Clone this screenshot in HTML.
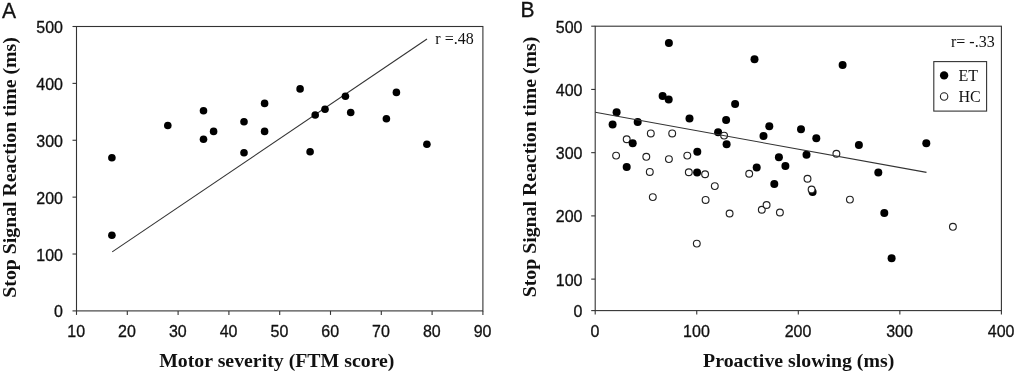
<!DOCTYPE html>
<html lang="en"><head><meta charset="utf-8"><title>Figure</title>
<style>html,body{margin:0;padding:0;background:#fff;}svg{display:block;filter:blur(0.45px);}.sans{font-family:"Liberation Sans",Arial,sans-serif;fill:#111;stroke:#111;stroke-width:0.3px;}.serif{font-family:"Liberation Serif","Times New Roman",serif;fill:#111;}.b{font-weight:bold;}</style></head><body>
<svg width="1017" height="374" viewBox="0 0 1017 374">
<rect width="1017" height="374" fill="#fff"/>
<rect x="76.5" y="26.5" width="406.40" height="284.40" fill="none" stroke="#333" stroke-width="1.1"/>
<line x1="72.5" y1="310.90" x2="76.5" y2="310.90" stroke="#333" stroke-width="1.1"/>
<text class="sans" transform="translate(63.00,317.40) scale(1,1.06)" font-size="16.0" text-anchor="end">0</text>
<line x1="72.5" y1="254.02" x2="76.5" y2="254.02" stroke="#333" stroke-width="1.1"/>
<text class="sans" transform="translate(63.00,260.52) scale(1,1.06)" font-size="16.0" text-anchor="end">100</text>
<line x1="72.5" y1="197.14" x2="76.5" y2="197.14" stroke="#333" stroke-width="1.1"/>
<text class="sans" transform="translate(63.00,203.64) scale(1,1.06)" font-size="16.0" text-anchor="end">200</text>
<line x1="72.5" y1="140.26" x2="76.5" y2="140.26" stroke="#333" stroke-width="1.1"/>
<text class="sans" transform="translate(63.00,146.76) scale(1,1.06)" font-size="16.0" text-anchor="end">300</text>
<line x1="72.5" y1="83.38" x2="76.5" y2="83.38" stroke="#333" stroke-width="1.1"/>
<text class="sans" transform="translate(63.00,89.88) scale(1,1.06)" font-size="16.0" text-anchor="end">400</text>
<line x1="72.5" y1="26.50" x2="76.5" y2="26.50" stroke="#333" stroke-width="1.1"/>
<text class="sans" transform="translate(63.00,33.00) scale(1,1.06)" font-size="16.0" text-anchor="end">500</text>
<line x1="76.50" y1="310.9" x2="76.50" y2="314.9" stroke="#333" stroke-width="1.1"/>
<text class="sans" transform="translate(76.20,336.60) scale(1,1.06)" font-size="16.0" text-anchor="middle">10</text>
<line x1="127.30" y1="310.9" x2="127.30" y2="314.9" stroke="#333" stroke-width="1.1"/>
<text class="sans" transform="translate(127.00,336.60) scale(1,1.06)" font-size="16.0" text-anchor="middle">20</text>
<line x1="178.10" y1="310.9" x2="178.10" y2="314.9" stroke="#333" stroke-width="1.1"/>
<text class="sans" transform="translate(177.80,336.60) scale(1,1.06)" font-size="16.0" text-anchor="middle">30</text>
<line x1="228.90" y1="310.9" x2="228.90" y2="314.9" stroke="#333" stroke-width="1.1"/>
<text class="sans" transform="translate(228.60,336.60) scale(1,1.06)" font-size="16.0" text-anchor="middle">40</text>
<line x1="279.70" y1="310.9" x2="279.70" y2="314.9" stroke="#333" stroke-width="1.1"/>
<text class="sans" transform="translate(279.40,336.60) scale(1,1.06)" font-size="16.0" text-anchor="middle">50</text>
<line x1="330.50" y1="310.9" x2="330.50" y2="314.9" stroke="#333" stroke-width="1.1"/>
<text class="sans" transform="translate(330.20,336.60) scale(1,1.06)" font-size="16.0" text-anchor="middle">60</text>
<line x1="381.30" y1="310.9" x2="381.30" y2="314.9" stroke="#333" stroke-width="1.1"/>
<text class="sans" transform="translate(381.00,336.60) scale(1,1.06)" font-size="16.0" text-anchor="middle">70</text>
<line x1="432.10" y1="310.9" x2="432.10" y2="314.9" stroke="#333" stroke-width="1.1"/>
<text class="sans" transform="translate(431.80,336.60) scale(1,1.06)" font-size="16.0" text-anchor="middle">80</text>
<line x1="482.90" y1="310.9" x2="482.90" y2="314.9" stroke="#333" stroke-width="1.1"/>
<text class="sans" transform="translate(482.60,336.60) scale(1,1.06)" font-size="16.0" text-anchor="middle">90</text>
<line x1="112.2" y1="251.9" x2="427" y2="39" stroke="#333" stroke-width="1.1"/>
<circle cx="111.9" cy="157.7" r="3.8" fill="#000"/>
<circle cx="167.8" cy="125.5" r="3.8" fill="#000"/>
<circle cx="203.5" cy="110.8" r="3.8" fill="#000"/>
<circle cx="203.5" cy="139.3" r="3.8" fill="#000"/>
<circle cx="213.6" cy="131.4" r="3.8" fill="#000"/>
<circle cx="244.0" cy="121.8" r="3.8" fill="#000"/>
<circle cx="244.0" cy="152.7" r="3.8" fill="#000"/>
<circle cx="264.6" cy="103.4" r="3.8" fill="#000"/>
<circle cx="264.6" cy="131.4" r="3.8" fill="#000"/>
<circle cx="300.1" cy="88.9" r="3.8" fill="#000"/>
<circle cx="310.1" cy="151.7" r="3.8" fill="#000"/>
<circle cx="315.2" cy="115.0" r="3.8" fill="#000"/>
<circle cx="325.0" cy="109.3" r="3.8" fill="#000"/>
<circle cx="345.4" cy="96.2" r="3.8" fill="#000"/>
<circle cx="350.7" cy="112.5" r="3.8" fill="#000"/>
<circle cx="386.4" cy="118.8" r="3.8" fill="#000"/>
<circle cx="396.4" cy="92.4" r="3.8" fill="#000"/>
<circle cx="426.9" cy="144.2" r="3.8" fill="#000"/>
<circle cx="111.9" cy="235.3" r="3.8" fill="#000"/>
<text class="sans" transform="translate(2.00,17.50) scale(0.95,1)" font-size="22.2" text-anchor="start">A</text>
<text class="serif" transform="translate(435.30,44.00)" font-size="16" text-anchor="start">r =.48</text>
<text class="serif b" transform="translate(276.80,366.70) scale(1.049,1)" font-size="18.9" text-anchor="middle">Motor severity (FTM score)</text>
<text class="serif b" transform="translate(16.10,167.40) rotate(-90) scale(1.048,1)" font-size="18.9" text-anchor="middle">Stop Signal Reaction time (ms)</text>
<rect x="595.2" y="26.2" width="406.20" height="284.40" fill="none" stroke="#333" stroke-width="1.1"/>
<line x1="591.2" y1="279.12" x2="595.2" y2="279.12" stroke="#333" stroke-width="1.1"/>
<text class="sans" transform="translate(582.50,285.62) scale(1,1.06)" font-size="16.0" text-anchor="end">100</text>
<line x1="591.2" y1="215.89" x2="595.2" y2="215.89" stroke="#333" stroke-width="1.1"/>
<text class="sans" transform="translate(582.50,222.39) scale(1,1.06)" font-size="16.0" text-anchor="end">200</text>
<line x1="591.2" y1="152.66" x2="595.2" y2="152.66" stroke="#333" stroke-width="1.1"/>
<text class="sans" transform="translate(582.50,159.16) scale(1,1.06)" font-size="16.0" text-anchor="end">300</text>
<line x1="591.2" y1="89.43" x2="595.2" y2="89.43" stroke="#333" stroke-width="1.1"/>
<text class="sans" transform="translate(582.50,95.93) scale(1,1.06)" font-size="16.0" text-anchor="end">400</text>
<line x1="591.2" y1="26.20" x2="595.2" y2="26.20" stroke="#333" stroke-width="1.1"/>
<text class="sans" transform="translate(582.50,32.70) scale(1,1.06)" font-size="16.0" text-anchor="end">500</text>
<line x1="591.2" y1="310.60" x2="595.2" y2="310.60" stroke="#333" stroke-width="1.1"/>
<text class="sans" transform="translate(582.50,317.10) scale(1,1.06)" font-size="16.0" text-anchor="end">0</text>
<line x1="595.20" y1="310.6" x2="595.20" y2="314.6" stroke="#333" stroke-width="1.1"/>
<text class="sans" transform="translate(594.90,336.60) scale(1,1.06)" font-size="16.0" text-anchor="middle">0</text>
<line x1="696.75" y1="310.6" x2="696.75" y2="314.6" stroke="#333" stroke-width="1.1"/>
<text class="sans" transform="translate(696.45,336.60) scale(1,1.06)" font-size="16.0" text-anchor="middle">100</text>
<line x1="798.30" y1="310.6" x2="798.30" y2="314.6" stroke="#333" stroke-width="1.1"/>
<text class="sans" transform="translate(798.00,336.60) scale(1,1.06)" font-size="16.0" text-anchor="middle">200</text>
<line x1="899.85" y1="310.6" x2="899.85" y2="314.6" stroke="#333" stroke-width="1.1"/>
<text class="sans" transform="translate(899.55,336.60) scale(1,1.06)" font-size="16.0" text-anchor="middle">300</text>
<line x1="1001.40" y1="310.6" x2="1001.40" y2="314.6" stroke="#333" stroke-width="1.1"/>
<text class="sans" transform="translate(1001.10,336.60) scale(1,1.06)" font-size="16.0" text-anchor="middle">400</text>
<circle cx="626.7" cy="139.2" r="3.4" fill="#fff" stroke="#222" stroke-width="1.15"/>
<circle cx="668.9" cy="43.1" r="4" fill="#000"/>
<circle cx="662.6" cy="96.1" r="4" fill="#000"/>
<circle cx="668.7" cy="99.4" r="4" fill="#000"/>
<circle cx="616.6" cy="112.2" r="4" fill="#000"/>
<circle cx="689.5" cy="118.5" r="4" fill="#000"/>
<circle cx="612.6" cy="124.4" r="4" fill="#000"/>
<circle cx="637.7" cy="121.9" r="4" fill="#000"/>
<circle cx="632.7" cy="143.2" r="4" fill="#000"/>
<circle cx="626.7" cy="166.9" r="4" fill="#000"/>
<circle cx="697.3" cy="151.8" r="4" fill="#000"/>
<circle cx="697.1" cy="172.4" r="4" fill="#000"/>
<circle cx="718.1" cy="132.2" r="4" fill="#000"/>
<circle cx="726.1" cy="120.0" r="4" fill="#000"/>
<circle cx="726.6" cy="144.3" r="4" fill="#000"/>
<circle cx="754.5" cy="59.2" r="4" fill="#000"/>
<circle cx="735.1" cy="104.0" r="4" fill="#000"/>
<circle cx="769.3" cy="126.2" r="4" fill="#000"/>
<circle cx="763.5" cy="136.0" r="4" fill="#000"/>
<circle cx="801.0" cy="129.2" r="4" fill="#000"/>
<circle cx="816.3" cy="138.2" r="4" fill="#000"/>
<circle cx="778.9" cy="157.3" r="4" fill="#000"/>
<circle cx="806.5" cy="154.8" r="4" fill="#000"/>
<circle cx="756.7" cy="167.4" r="4" fill="#000"/>
<circle cx="785.4" cy="165.9" r="4" fill="#000"/>
<circle cx="774.3" cy="184.0" r="4" fill="#000"/>
<circle cx="812.6" cy="192.1" r="4" fill="#000"/>
<circle cx="842.6" cy="64.9" r="4" fill="#000"/>
<circle cx="858.9" cy="145.0" r="4" fill="#000"/>
<circle cx="926.3" cy="143.2" r="4" fill="#000"/>
<circle cx="878.3" cy="172.4" r="4" fill="#000"/>
<circle cx="884.3" cy="212.9" r="4" fill="#000"/>
<circle cx="891.6" cy="258.2" r="4" fill="#000"/>
<circle cx="650.8" cy="133.4" r="3.4" fill="#fff" stroke="#222" stroke-width="1.15"/>
<circle cx="672.2" cy="133.4" r="3.4" fill="#fff" stroke="#222" stroke-width="1.15"/>
<circle cx="616.1" cy="155.6" r="3.4" fill="#fff" stroke="#222" stroke-width="1.15"/>
<circle cx="646.3" cy="156.8" r="3.4" fill="#fff" stroke="#222" stroke-width="1.15"/>
<circle cx="668.9" cy="159.1" r="3.4" fill="#fff" stroke="#222" stroke-width="1.15"/>
<circle cx="687.3" cy="155.6" r="3.4" fill="#fff" stroke="#222" stroke-width="1.15"/>
<circle cx="649.8" cy="171.9" r="3.4" fill="#fff" stroke="#222" stroke-width="1.15"/>
<circle cx="688.8" cy="172.2" r="3.4" fill="#fff" stroke="#222" stroke-width="1.15"/>
<circle cx="705.1" cy="174.2" r="3.4" fill="#fff" stroke="#222" stroke-width="1.15"/>
<circle cx="714.8" cy="186.1" r="3.4" fill="#fff" stroke="#222" stroke-width="1.15"/>
<circle cx="724.1" cy="135.6" r="3.4" fill="#fff" stroke="#222" stroke-width="1.15"/>
<circle cx="652.8" cy="197.1" r="3.4" fill="#fff" stroke="#222" stroke-width="1.15"/>
<circle cx="705.6" cy="199.9" r="3.4" fill="#fff" stroke="#222" stroke-width="1.15"/>
<circle cx="696.8" cy="243.6" r="3.4" fill="#fff" stroke="#222" stroke-width="1.15"/>
<circle cx="836.4" cy="153.7" r="3.4" fill="#fff" stroke="#222" stroke-width="1.15"/>
<circle cx="749.2" cy="173.7" r="3.4" fill="#fff" stroke="#222" stroke-width="1.15"/>
<circle cx="807.5" cy="178.7" r="3.4" fill="#fff" stroke="#222" stroke-width="1.15"/>
<circle cx="811.6" cy="189.5" r="3.4" fill="#fff" stroke="#222" stroke-width="1.15"/>
<circle cx="729.6" cy="213.5" r="3.4" fill="#fff" stroke="#222" stroke-width="1.15"/>
<circle cx="761.8" cy="209.7" r="3.4" fill="#fff" stroke="#222" stroke-width="1.15"/>
<circle cx="766.6" cy="205.0" r="3.4" fill="#fff" stroke="#222" stroke-width="1.15"/>
<circle cx="779.9" cy="212.5" r="3.4" fill="#fff" stroke="#222" stroke-width="1.15"/>
<circle cx="849.9" cy="199.6" r="3.4" fill="#fff" stroke="#222" stroke-width="1.15"/>
<circle cx="952.9" cy="226.8" r="3.4" fill="#fff" stroke="#222" stroke-width="1.15"/>
<line x1="595.2" y1="112.3" x2="926.5" y2="172.4" stroke="#333" stroke-width="1.1"/>
<text class="sans" transform="translate(520.50,17.30) scale(0.95,1)" font-size="22.2" text-anchor="start">B</text>
<text class="serif" transform="translate(951.00,46.50)" font-size="16" text-anchor="start">r= -.33</text>
<rect x="933.8" y="61.6" width="52.8" height="49.5" fill="#fff" stroke="#333" stroke-width="1.1"/>
<circle cx="944.1" cy="75.4" r="4.2" fill="#000"/>
<circle cx="944.1" cy="96.5" r="3.7" fill="#fff" stroke="#222" stroke-width="1.1"/>
<text class="serif" transform="translate(958.50,81.00)" font-size="16" text-anchor="start">ET</text>
<text class="serif" transform="translate(958.50,102.00)" font-size="16" text-anchor="start">HC</text>
<text class="serif b" transform="translate(798.70,367.20) scale(1.049,1)" font-size="18.9" text-anchor="middle">Proactive slowing (ms)</text>
<text class="serif b" transform="translate(536.20,167.00) rotate(-90) scale(1.048,1)" font-size="18.9" text-anchor="middle">Stop Signal Reaction time (ms)</text>
</svg></body></html>
